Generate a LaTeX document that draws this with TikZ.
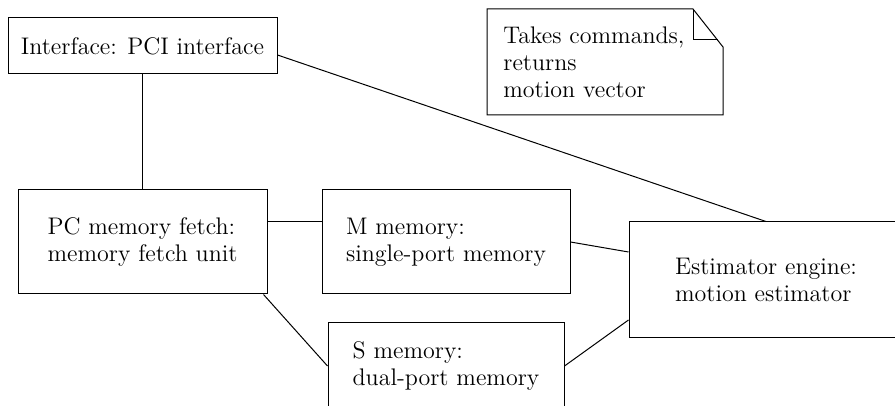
\documentclass[tikz,border=0pt]{standalone}
\usetikzlibrary{calc}

\tikzset{
  block/.style={draw, line width=0.5pt, align=left, font=\fontsize{12}{13.5}\selectfont, inner sep=0pt},
  link/.style={line width=0.5pt}
}

\begin{document}
\begin{tikzpicture}[x=0.5pt, y=-0.5pt]
  \clip (0,0) rectangle (895,406);
  \path[use as bounding box] (0,0) rectangle (895,406);
  % blocks
  \node[block, minimum width=134.5pt, minimum height=28pt] (iface) at (142.5,46) {Interface: PCI interface};
  \node[block, minimum width=124.5pt, minimum height=52pt] (pcfetch) at (142.5,242) {PC memory fetch:\\memory fetch unit};
  \node[block, minimum width=124pt, minimum height=52pt] (mmem) at (446,242) {M memory:\\single-port memory};
  \node[block, minimum width=118pt, minimum height=43pt] (smem) at (446,366) {S memory:\\dual-port memory};
  \node[block, minimum width=137pt, minimum height=58pt] (engine) at (766,280) {Estimator engine:\\motion estimator};
  % note with folded corner
  \draw[link] (693,9) -- (487,9) -- (487,115) -- (723,115) -- (723,47) -- cycle;
  \draw[link] (693,9) -- (693,40) -- (717.5,40);
  \node[anchor=west, align=left, font=\fontsize{12}{13.5}\selectfont, inner sep=0pt] (cmdnote) at (503,62) {Takes commands,\\returns\\motion vector};
  % connections
  \draw[link] (iface.south) -- (pcfetch.north);
  \draw[link] ($(iface.east)+(0,-4.5pt)$) -- (engine.north);
  \draw[link] ($(pcfetch.east)+(0,10pt)$) -- ($(mmem.west)+(0,10pt)$);
  \draw[link] (mmem.east) -- ($(engine.west)+(0,14pt)$);
  \draw[link] ($(pcfetch.south east)+(-2pt,0)$) -- (smem.west);
  \draw[link] (smem.east) -- ($(engine.west)+(0,-20pt)$);
\end{tikzpicture}
\end{document}
